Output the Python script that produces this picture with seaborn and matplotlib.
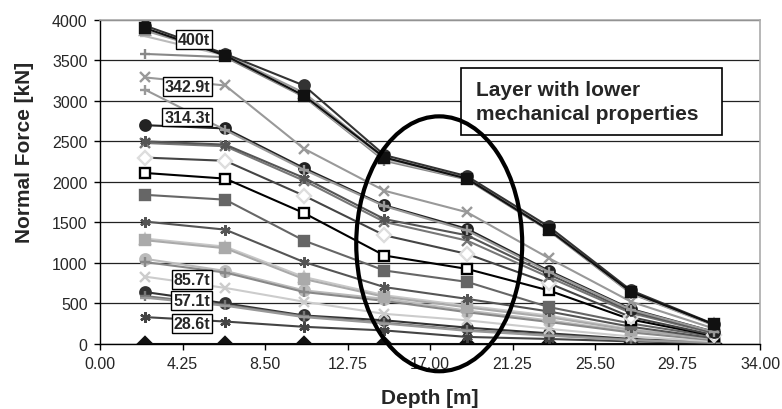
import pandas as pd
import seaborn as sns
import matplotlib.pyplot as plt
from matplotlib.patches import Ellipse, Rectangle

# depth of the measuring points [m]
depth = [2.3, 6.45, 10.5, 14.65, 18.9, 23.1, 27.35, 31.6]

# normal force per load step [kN]
forces = [
    [0, 0, 0, 0, 0, 0, 0, 0],
    [330, 275, 210, 165, 85, 60, 30, 10],
    [640, 500, 350, 290, 200, 130, 60, 20],
    [590, 480, 340, 260, 170, 110, 50, 15],
    [570, 470, 330, 250, 160, 100, 45, 12],
    [830, 690, 520, 370, 290, 185, 90, 30],
    [1050, 900, 660, 555, 410, 290, 150, 50],
    [1010, 880, 640, 530, 390, 270, 140, 45],
    [1300, 1200, 825, 600, 470, 350, 180, 60],
    [1280, 1180, 800, 580, 450, 330, 170, 60],
    [1510, 1410, 1010, 700, 555, 400, 210, 70],
    [1840, 1780, 1275, 905, 765, 455, 250, 90],
    [2110, 2040, 1615, 1090, 925, 660, 300, 100],
    [2300, 2260, 1830, 1340, 1110, 750, 330, 110],
    [2480, 2440, 2015, 1505, 1275, 825, 380, 130],
    [2500, 2460, 2050, 1540, 1340, 860, 400, 140],
    [2700, 2660, 2170, 1710, 1420, 905, 430, 150],
    [3140, 2640, 2150, 1700, 1400, 890, 420, 150],
    [3290, 3190, 2410, 1890, 1625, 1060, 520, 190],
    [3580, 3540, 3050, 2260, 2030, 1400, 620, 230],
    [3800, 3560, 3060, 2280, 2040, 1410, 630, 235],
    [3870, 3570, 3100, 2300, 2050, 1420, 640, 240],
    [3930, 3580, 3190, 2330, 2070, 1450, 660, 245],
    [3900, 3560, 3065, 2300, 2040, 1410, 640, 240],
]

line_colors = ['#111111', '#444444', '#333333', '#777777', '#999999', '#cccccc',
               '#bbbbbb', '#888888', '#c8c8c8', '#aaaaaa', '#555555', '#666666',
               '#000000', '#444444', '#777777', '#555555', '#222222', '#999999',
               '#999999', '#888888', '#bbbbbb', '#999999', '#333333', '#111111']
ast = (6, 2, 0)
markers = ['D', ast, 'o', '+', '_', 'x', 'o', '+', '^', 's', ast, 's',
           's', 'D', 'x', ast, 'o', '+', 'x', '+', '_', '^', 'o', 's']

load_labels = ['400t', '342.9t', '314.3t', '85.7t', '57.1t', '28.6t']
label_y = [3753, 3173, 2800, 790, 531, 247]

rows = []
for i, vals in enumerate(forces):
    for d, v in zip(depth, vals):
        rows.append({'series': i, 'Depth': d, 'Force': v})
df = pd.DataFrame(rows)

sns.set_style('white')
plt.rcParams['font.family'] = ['Liberation Sans', 'DejaVu Sans']

fig = plt.figure(figsize=(7.82, 4.10), dpi=100)
ax = fig.add_axes([0.128, 0.159, 0.844, 0.79])

for i in range(len(forces)):
    sub = df[df['series'] == i]
    face = 'white' if i in (12, 13) else line_colors[i]
    sns.lineplot(data=sub, x='Depth', y='Force', color=line_colors[i],
                 marker=markers[i], markersize=7.5, markerfacecolor=face,
                 markeredgecolor=line_colors[i] if i != 13 else '#dddddd',
                 markeredgewidth=1.7, linewidth=1.5, ax=ax, legend=False)

ax.set_xlim(0, 34)
ax.set_ylim(0, 4000)
ax.set_xticks([0, 4.25, 8.5, 12.75, 17, 21.25, 25.5, 29.75, 34])
ax.set_xticklabels([f'{t:.2f}' for t in ax.get_xticks()])
ax.set_yticks(range(0, 4001, 500))
ax.tick_params(axis='both', labelsize=11.5, direction='out', length=4,
               width=1, color='black', bottom=True, left=True, pad=5)
ax.grid(axis='y', color='#222222', linewidth=0.9)
ax.set_axisbelow(True)
for s in ['left', 'bottom']:
    ax.spines[s].set_color('black')
    ax.spines[s].set_linewidth(1)
for s in ['top', 'right']:
    ax.spines[s].set_color('#aaaaaa')
    ax.spines[s].set_linewidth(1.2)

ax.set_xlabel('Depth [m]', fontsize=15, fontweight='bold')
ax.set_ylabel('Normal Force [kN]', fontsize=15, fontweight='bold')
ax.xaxis.set_label_coords(0.5, -0.135)
ax.yaxis.set_label_coords(-0.10, 0.593)

for lab, yv in zip(load_labels, label_y):
    ax.text(5.67, yv, lab, ha='right', va='center', fontsize=11.5, fontweight='bold',
            bbox=dict(boxstyle='square,pad=0.12', fc='white', ec='black', lw=1))

# annotation box for the weak layer
ax.add_patch(Rectangle((18.6, 2580), 13.45, 827, fc='white', ec='black', lw=1.2, zorder=4))
ax.text(19.37, 2990, 'Layer with lower\nmechanical properties', ha='left', va='center',
        fontsize=15, fontweight='bold', linespacing=1.3, zorder=5)

ax.add_patch(Ellipse((17.47, 1235), 8.55, 3148, fill=False, ec='black', lw=3,
                     clip_on=False, zorder=5))

fig.savefig('out.png', dpi=100)
